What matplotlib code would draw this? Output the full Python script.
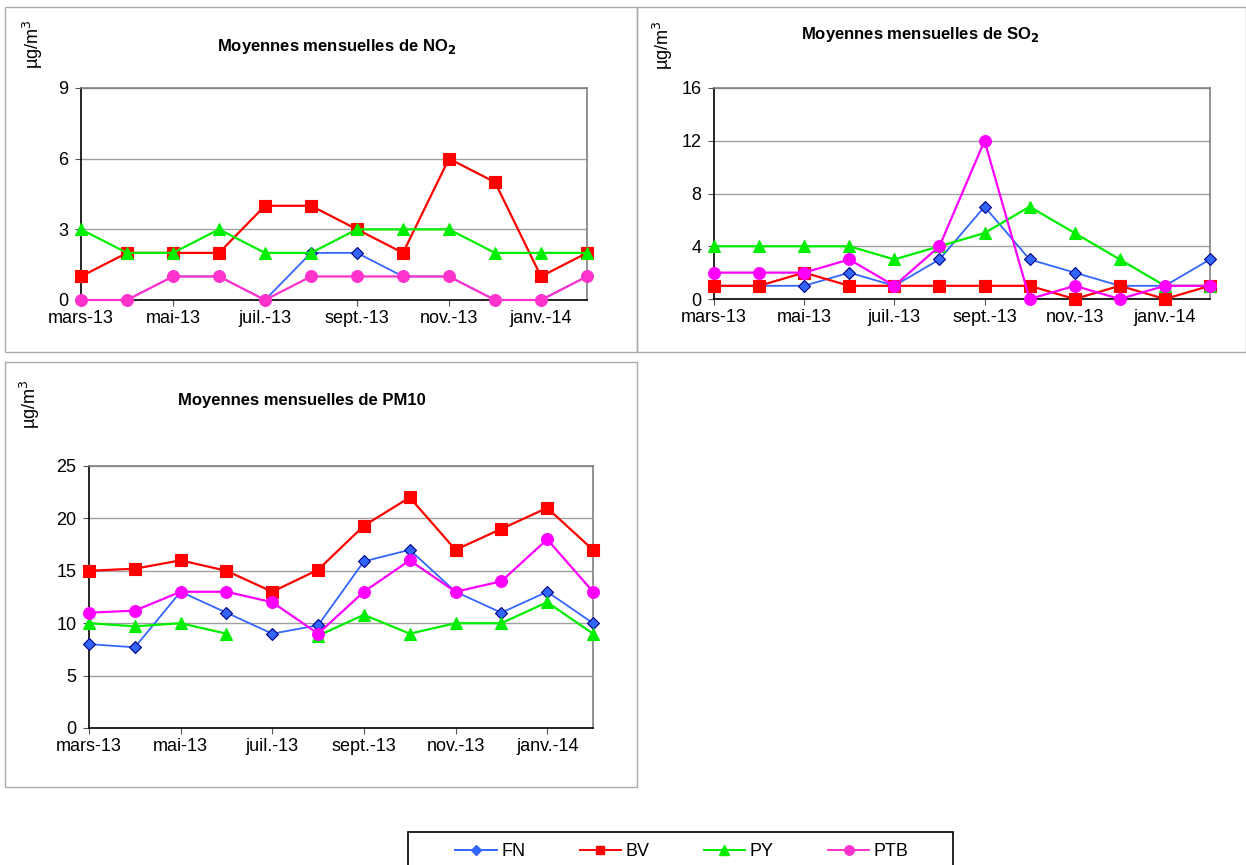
import numpy as np
import matplotlib
matplotlib.use("Agg")
import matplotlib.pyplot as plt
from matplotlib.patches import Rectangle
from matplotlib.lines import Line2D

plt.rcParams['font.family'] = ['Liberation Sans', 'DejaVu Sans']

# -------------------------------
months = ['mars-13', 'avr.-13', 'mai-13', 'juin-13', 'juil.-13', 'août-13',
          'sept.-13', 'oct.-13', 'nov.-13', 'déc.-13', 'janv.-14', 'févr.-14']
stations = ['FN', 'BV', 'PY', 'PTB']

no2_fn = [0, 0, 1, 1, 0, 2, 2, 1, 1, 0, 0, 1]
no2_bv = [1, 2, 2, 2, 4, 4, 3, 2, 6, 5, 1, 2]
no2_py = [3, 2, 2, 3, 2, 2, 3, 3, 3, 2, 2, 2]
no2_ptb = [0, 0, 1, 1, 0, 1, 1, 1, 1, 0, 0, 1]

so2_fn = [1, 1, 1, 2, 1, 3, 7, 3, 2, 1, 1, 3]
so2_bv = [1, 1, 2, 1, 1, 1, 1, 1, 0, 1, 0, 1]
so2_py = [4, 4, 4, 4, 3, 4, 5, 7, 5, 3, 1, 1]
so2_ptb = [2, 2, 2, 3, 1, 4, 12, 0, 1, 0, 1, 1]

pm10_fn = [8, 7.7, 13, 11, 9, 9.8, 15.9, 17, 13, 11, 13, 10]
pm10_bv = [15, 15.2, 16, 15, 13, 15.1, 19.3, 22, 17, 19, 21, 17]
pm10_py = [10, 9.7, 10, 9, np.nan, 8.8, 10.8, 9, 10, 10, 12, 9]
pm10_ptb = [11, 11.2, 13, 13, 12, 9, 13, 16, 13, 14, 18, 13]
# -------------------------------

colors = {'FN': '#3366FF', 'BV': '#FF0000', 'PY': '#00EE00', 'PTB': '#FF33CC'}
markers = {'FN': 'D', 'BV': 's', 'PY': '^', 'PTB': 'o'}
sizes = {'FN': 6, 'BV': 8, 'PY': 8.5, 'PTB': 8.5}

fig = plt.figure(figsize=(12.46, 8.65), dpi=100)
W, H = 1246, 865


def fx(px):
    return px / W


def fy(py):
    return 1 - py / H


def panel_box(x0, y0, x1, y1, color='#AAAAAA', lw=1):
    fig.patches.append(Rectangle((fx(x0), fy(y1)), fx(x1) - fx(x0), fy(y0) - fy(y1),
                                 transform=fig.transFigure, fill=False,
                                 edgecolor=color, linewidth=lw))


def draw(rect, series, ymax, ystep, title, title_xy, ptb_color, ylab_xy):
    l, t, r, b = rect
    ax = fig.add_axes([fx(l), fy(b), fx(r) - fx(l), fy(t) - fy(b)])
    x = np.arange(len(months))
    for name, vals in zip(stations, series):
        c = ptb_color if name == 'PTB' else colors[name]
        mec = '#000080' if name == 'FN' else c
        lw = 1.3 if name == 'FN' else 1.6
        ax.plot(x, vals, color=c, marker=markers[name], markersize=sizes[name],
                markeredgecolor=mec, markeredgewidth=0.8, linewidth=lw, clip_on=False,
                zorder=3)
    ax.set_xlim(0, len(months) - 1)
    ax.set_ylim(0, ymax)
    ax.set_yticks(np.arange(0, ymax + 1, ystep))
    ax.set_xticks(x[::2])
    ax.set_xticklabels(months[::2])
    ax.tick_params(labelsize=13, length=4, color='#555555')
    ax.tick_params(axis='x', pad=3)
    ax.tick_params(axis='y', pad=5)
    ax.yaxis.grid(True, color='#A0A0A0', linewidth=1)
    ax.set_axisbelow(True)
    for s in ['top', 'right']:
        ax.spines[s].set_color('#808080')
        ax.spines[s].set_linewidth(1.2)
    for s in ['left', 'bottom']:
        ax.spines[s].set_color('black')
        ax.spines[s].set_linewidth(1.2)
    fig.text(fx(title_xy[0]), fy(title_xy[1]), title, ha='center', va='center',
             fontsize=12, fontweight='bold')
    fig.text(fx(ylab_xy[0]), fy(ylab_xy[1]), 'µg/m$^3$', rotation=90,
             ha='center', va='center', fontsize=13)
    return ax


panel_box(5, 7, 637, 352)
panel_box(637, 7, 1246, 352)
panel_box(5, 362, 637, 787)

draw((81, 88, 587, 300), [no2_fn, no2_bv, no2_py, no2_ptb], 9, 3,
     'Moyennes mensuelles de NO$_\\mathbf{2}$', (337, 47), '#FF33CC', (33, 44))
draw((714, 88, 1210, 299), [so2_fn, so2_bv, so2_py, so2_ptb], 16, 4,
     'Moyennes mensuelles de SO$_\\mathbf{2}$', (920, 34), '#FF00FF', (663, 45))
draw((89, 466, 593, 728), [pm10_fn, pm10_bv, pm10_py, pm10_ptb], 25, 5,
     'Moyennes mensuelles de PM10', (302, 400), '#FF00FF', (30, 404))

# legend frame drawn separately (wider side padding than matplotlib allows)
panel_box(408, 832, 953, 867, color='black', lw=1.2)

handles = []
for name in stations:
    mec = '#3366FF' if name == 'FN' else colors[name]
    handles.append(Line2D([], [], color=colors[name], marker=markers[name],
                          markersize=sizes[name] * 0.8, markeredgecolor=mec,
                          linewidth=1.4, label=name))
fig.legend(handles=handles, ncol=4, loc='center',
           bbox_to_anchor=(fx(682), fy(852)), frameon=False, fontsize=13,
           handlelength=2.3, handletextpad=0.25, columnspacing=3.0,
           borderpad=0, borderaxespad=0)

fig.savefig('out.png', dpi=100)
